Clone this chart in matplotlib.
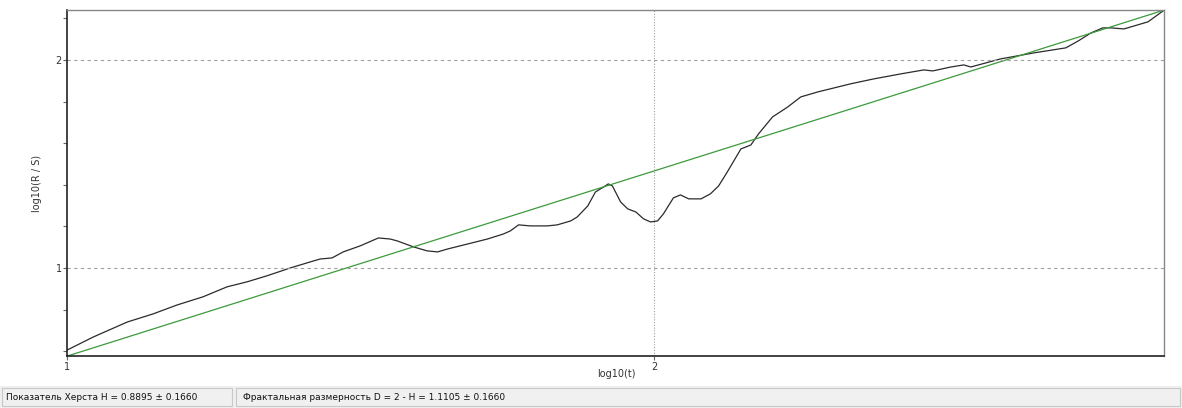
import numpy as np
import matplotlib.pyplot as plt
from matplotlib.ticker import MultipleLocator, FixedLocator
from matplotlib.patches import Rectangle

# R/S curve
log_t = [1.000, 1.044, 1.102, 1.146, 1.187, 1.231, 1.272, 1.306, 1.340, 1.380,
         1.414, 1.431, 1.451, 1.470, 1.499, 1.530, 1.550, 1.562, 1.590, 1.613,
         1.631, 1.648, 1.682, 1.716, 1.743, 1.755, 1.769, 1.789, 1.818, 1.835,
         1.858, 1.869, 1.887, 1.900, 1.914, 1.922, 1.929, 1.943, 1.955, 1.969,
         1.982, 1.994, 2.006, 2.016, 2.033, 2.045, 2.059, 2.080, 2.096, 2.110,
         2.125, 2.148, 2.165, 2.178, 2.202, 2.228, 2.250, 2.279, 2.335, 2.375,
         2.421, 2.460, 2.475, 2.506, 2.528, 2.540, 2.591, 2.648, 2.702, 2.723,
         2.745, 2.765, 2.779, 2.801, 2.818, 2.842, 2.870]
log_rs = [0.606, 0.668, 0.740, 0.779, 0.822, 0.861, 0.909, 0.933, 0.962, 1.000,
          1.029, 1.043, 1.048, 1.077, 1.106, 1.144, 1.139, 1.130, 1.101, 1.082,
          1.077, 1.091, 1.115, 1.139, 1.163, 1.178, 1.207, 1.202, 1.202, 1.207,
          1.226, 1.245, 1.298, 1.365, 1.389, 1.404, 1.394, 1.317, 1.284, 1.269,
          1.236, 1.221, 1.226, 1.260, 1.337, 1.351, 1.332, 1.332, 1.356, 1.394,
          1.462, 1.572, 1.591, 1.644, 1.726, 1.774, 1.822, 1.846, 1.885, 1.909,
          1.933, 1.952, 1.947, 1.966, 1.976, 1.966, 2.005, 2.034, 2.058, 2.091,
          2.130, 2.154, 2.154, 2.149, 2.163, 2.183, 2.240]

H = 0.8895
H_err = 0.1660
x_fit = [1.0, 2.870]
y_end = 2.240
y_fit = [y_end - H * (x_fit[1] - x) for x in x_fit]

fig = plt.figure(figsize=(11.82, 4.08), dpi=100)
ax = fig.add_axes([0.0571, 0.1275, 0.928, 0.848])

ax.plot(log_t, log_rs, color='#2b2b2b', lw=0.9)
ax.plot(x_fit, y_fit, color='#3c9a3c', lw=0.9)

ax.set_xlim(1.0, 2.870)
ax.set_ylim(y_fit[0], y_end)

ax.xaxis.set_major_locator(FixedLocator([1, 2]))
ax.yaxis.set_major_locator(FixedLocator([1, 2]))
ax.yaxis.set_minor_locator(MultipleLocator(0.2))
ax.tick_params(axis='both', which='both', length=3, width=0.8, color='#666666',
               labelsize=7, labelcolor='#333333', pad=1)

ax.axhline(1, color='#a0a0a0', lw=0.8, ls=(0, (3, 3)))
ax.axhline(2, color='#a0a0a0', lw=0.8, ls=(0, (3, 3)))
ax.axvline(2, color='#a0a0a0', lw=0.8, ls=(0, (1, 1.5)))

for s in ['top', 'right']:
    ax.spines[s].set_color('#888888')
    ax.spines[s].set_linewidth(1.0)
for s in ['left', 'bottom']:
    ax.spines[s].set_color('#222222')
    ax.spines[s].set_linewidth(1.2)

ax.set_xlabel('log10(t)', fontsize=7, color='#333333', labelpad=-2)
ax.set_ylabel('log10(R / S)', fontsize=7, color='#333333', labelpad=10)

# status bar
fig.patches.append(Rectangle((0, 0), 1, 22 / 408, transform=fig.transFigure,
                             facecolor='#f0f0f0', edgecolor='none'))
fig.patches.append(Rectangle((2 / 1182, 2 / 408), 230 / 1182, 18 / 408,
                             transform=fig.transFigure, facecolor='#f0f0f0',
                             edgecolor='#c8c8c8', lw=0.8))
fig.patches.append(Rectangle((236 / 1182, 2 / 408), 944 / 1182, 18 / 408,
                             transform=fig.transFigure, facecolor='#f0f0f0',
                             edgecolor='#c8c8c8', lw=0.8))
fig.text(6 / 1182, 11 / 408,
         'Показатель Херста H = %.4f ± %.4f' % (H, H_err),
         fontsize=6.5, va='center', ha='left', color='#111111')
fig.text(243 / 1182, 11 / 408,
         'Фрактальная размерность D = 2 - H = %.4f ± %.4f' % (2 - H, H_err),
         fontsize=6.5, va='center', ha='left', color='#111111')

fig.savefig('out.png', dpi=100)
